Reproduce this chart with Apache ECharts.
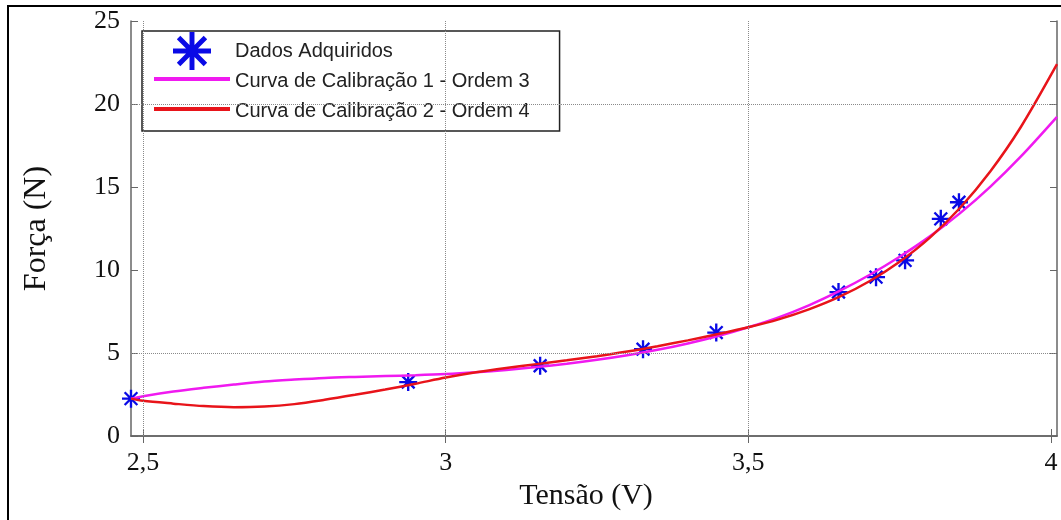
<!DOCTYPE html>
<html>
<head>
<meta charset="utf-8">
<script src="https://cdn.jsdelivr.net/npm/echarts@6/dist/echarts.min.js"></script>
<style>
  html, body { margin: 0; padding: 0; background: #fff; }
  #main { width: 1061px; height: 520px; }
</style>
</head>
<body>
<div id="main"></div>
<script>
// dados
var dadosX = [2.48, 2.938, 3.156, 3.326, 3.447, 3.649, 3.711, 3.759, 3.818, 3.848];
var dadosY = [2.25, 3.25, 4.23, 5.23, 6.23, 8.67, 9.57, 10.58, 13.08, 14.08];

// curva 1 - ordem 3 (magenta)
var curva1X = [2.48, 2.50, 2.55, 2.60, 2.65, 2.70, 2.75, 2.80, 2.85, 2.90, 2.95, 3.00, 3.05, 3.10, 3.15, 3.20, 3.25, 3.30, 3.35, 3.40, 3.45, 3.50, 3.55, 3.60, 3.65, 3.70, 3.75, 3.80, 3.85, 3.90, 3.95, 4.01];
var curva1Y = [2.25, 2.4, 2.68, 2.9, 3.1, 3.28, 3.4, 3.5, 3.56, 3.61, 3.66, 3.73, 3.84, 3.98, 4.155, 4.355, 4.59, 4.865, 5.19, 5.575, 6.025, 6.55, 7.15, 7.875, 8.725, 9.7, 10.8, 12.025, 13.425, 15.025, 16.825, 19.225];

// curva 2 - ordem 4 (vermelho)
var curva2X = [2.48, 2.50, 2.55, 2.60, 2.65, 2.70, 2.75, 2.80, 2.85, 2.90, 2.95, 3.00, 3.05, 3.10, 3.15, 3.20, 3.25, 3.30, 3.35, 3.40, 3.45, 3.50, 3.55, 3.60, 3.65, 3.70, 3.75, 3.80, 3.85, 3.90, 3.95, 4.01];
var curva2Y = [2.25, 2.12, 1.95, 1.8, 1.73, 1.77, 1.92, 2.18, 2.48, 2.8, 3.15, 3.52, 3.84, 4.1, 4.33, 4.56, 4.81, 5.09, 5.41, 5.76, 6.14, 6.55, 7.025, 7.625, 8.375, 9.325, 10.5, 11.95, 13.75, 15.95, 18.6, 22.4];

var xTicks = [2.5, 3, 3.5, 4];
var gradeX = [2.5, 3, 3.5];
var gradeY = [5, 20];

var nomes = ['Dados Adquiridos', 'Curva de Calibração 1 - Ordem 3', 'Curva de Calibração 2 - Ordem 4'];

function zip(a, b) {
  return a.map(function (v, i) { return [v, b[i]]; });
}

// asterisco (marcador * do MATLAB)
function asterisco() {
  var L = 10, w = 1.3, d = '';
  [0, 45, 90, 135].forEach(function (deg) {
    var a = deg * Math.PI / 180, c = Math.cos(a), s = Math.sin(a);
    var pts = [[-L, -w], [L, -w], [L, w], [-L, w]].map(function (p) {
      return (p[0] * c - p[1] * s).toFixed(2) + ' ' + (p[0] * s + p[1] * c).toFixed(2);
    });
    d += 'M' + pts.join(' L') + ' Z ';
  });
  return 'path://' + d;
}

// barra fina no meio de uma caixa 76x38 (pontos soltos so para a caixa)
var iconeLinha = 'path://M0 -17 L0.01 -17 Z M0 -2 L76 -2 L76 2 L0 2 Z M0 21 L0.01 21 Z';
var serif = 'Liberation Serif';
var corEixo = '#666';
var cores = ['#0a0ae6', '#f01af0', '#e8141a'];

var markGrade = {
  silent: true,
  symbol: 'none',
  label: { show: false },
  lineStyle: { type: 'dotted', color: '#8a8a8a', width: 1 },
  data: gradeX.map(function (v) { return { xAxis: v }; })
    .concat(gradeY.map(function (v) { return { yAxis: v }; }))
};

var chart = echarts.init(document.getElementById('main'));
chart.setOption({
  animation: false,
  backgroundColor: '#fff',
  graphic: [{
    type: 'rect',
    shape: { x: 8, y: 6, width: 1100, height: 600 },
    style: { fill: 'none', stroke: '#000', lineWidth: 2 },
    z: 100
  }],
  grid: { left: 131, right: 4, top: 21, bottom: 84 },
  legend: {
    orient: 'vertical',
    left: 142,
    top: 31,
    data: [
      { name: nomes[0], icon: asterisco(), itemStyle: { color: cores[0] } },
      { name: nomes[1], icon: iconeLinha, itemStyle: { color: cores[1] } },
      { name: nomes[2], icon: iconeLinha, itemStyle: { color: cores[2] } }
    ],
    itemWidth: 76,
    itemHeight: 38,
    itemGap: -8,
    padding: [1, 30, 1, 12],
    borderColor: '#222',
    borderWidth: 1.5,
    backgroundColor: '#fff',
    textStyle: { fontFamily: 'Liberation Sans', fontSize: 20, color: '#222' }
  },
  xAxis: [{
    type: 'value',
    min: 2.48,
    max: 4.01,
    name: 'Tensão (V)',
    nameLocation: 'middle',
    nameGap: 45,
    nameTextStyle: { fontFamily: serif, fontSize: 30, color: '#111', padding: [0, 16, 0, 0] },
    axisLine: { show: true, lineStyle: { color: corEixo, width: 1.5 } },
    axisTick: { show: true, inside: true, length: 7, customValues: xTicks, lineStyle: { color: corEixo } },
    axisLabel: {
      customValues: xTicks,
      margin: 14,
      fontFamily: serif, fontSize: 26, color: '#111',
      formatter: function (v) { return String(v).replace('.', ','); }
    },
    splitLine: { show: false }
  }, {
    type: 'value',
    position: 'top',
    min: 2.48,
    max: 4.01,
    axisLine: { show: true, lineStyle: { color: corEixo, width: 1.5 } },
    axisTick: { show: true, inside: true, length: 7, customValues: xTicks, lineStyle: { color: corEixo } },
    axisLabel: { show: false },
    splitLine: { show: false }
  }],
  yAxis: [{
    type: 'value',
    min: 0,
    max: 25,
    interval: 5,
    name: 'Força (N)',
    nameLocation: 'middle',
    nameGap: 78,
    nameTextStyle: { fontFamily: serif, fontSize: 32, color: '#111' },
    axisLine: { show: true, lineStyle: { color: corEixo, width: 1.5 } },
    axisTick: { show: true, inside: true, length: 7, lineStyle: { color: corEixo } },
    axisLabel: { margin: 11, fontFamily: serif, fontSize: 26, color: '#111' },
    splitLine: { show: false }
  }, {
    type: 'value',
    position: 'right',
    min: 0,
    max: 25,
    interval: 5,
    axisLine: { show: true, lineStyle: { color: corEixo, width: 1.5 } },
    axisTick: { show: true, inside: true, length: 7, lineStyle: { color: corEixo } },
    axisLabel: { show: false },
    splitLine: { show: false }
  }],
  series: [{
    name: nomes[0],
    type: 'scatter',
    data: zip(dadosX, dadosY),
    symbol: asterisco(),
    symbolSize: 18,
    itemStyle: { color: cores[0], opacity: 1 },
    markLine: markGrade,
    z: 2
  }, {
    name: nomes[1],
    type: 'line',
    data: zip(curva1X, curva1Y),
    symbol: 'none',
    smooth: 0.3,
    lineStyle: { color: cores[1], width: 2.5 },
    itemStyle: { color: cores[1] },
    z: 3
  }, {
    name: nomes[2],
    type: 'line',
    data: zip(curva2X, curva2Y),
    symbol: 'none',
    smooth: 0.3,
    lineStyle: { color: cores[2], width: 2.5 },
    itemStyle: { color: cores[2] },
    z: 4
  }]
});
</script>
</body>
</html>
